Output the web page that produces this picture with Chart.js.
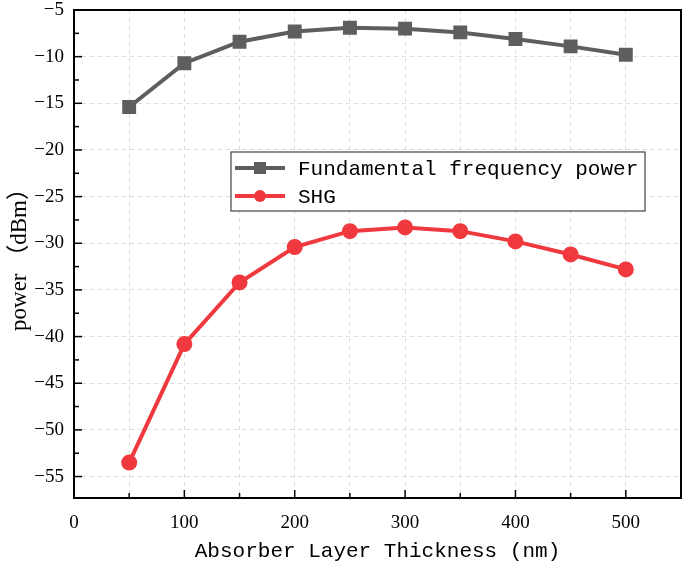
<!DOCTYPE html>
<html lang="en">
  <head>
    <meta charset="UTF-8" />
    <script src="https://cdn.jsdelivr.net/npm/chart.js"></script>
    <title>Absorber Layer Thickness</title>
    <style>
      html, body { margin: 0; padding: 0; background: #fff; }
      #wrap { width: 685px; height: 566px; }
    </style>
  </head>
  <body>
    <div id="wrap"><canvas id="powerChart"></canvas></div>
    <script>
      const thickness = [50, 100, 150, 200, 250, 300, 350, 400, 450, 500];
      const fundamentalPower = [-15.4, -10.7, -8.4, -7.3, -6.9, -7.0, -7.4, -8.1, -8.9, -9.8];
      const shgPower = [-53.5, -40.8, -34.2, -30.4, -28.7, -28.3, -28.7, -29.8, -31.2, -32.8];
      const seriesNames = ["Fundamental frequency power", "SHG"];
      const xTicks = [0, 50, 100, 150, 200, 250, 300, 350, 400, 450, 500, 550];
      const yTicks = [-55, -52.5, -50, -47.5, -45, -42.5, -40, -37.5, -35, -32.5, -30,
        -27.5, -25, -22.5, -20, -17.5, -15, -12.5, -10, -7.5, -5];

      const grey = "#5e5e5e";
      const red = "#f0393e";
      const minus = (v) => String(v).replace("-", "\u2212");

      // inward ticks, frame and the in-plot legend
      const framePlugin = {
        id: "frame",
        afterDraw(chart) {
          const ctx = chart.ctx;
          const a = chart.chartArea;
          const xs = chart.scales.x;
          const ys = chart.scales.y;
          ctx.save();
          ctx.strokeStyle = "#000";
          ctx.lineWidth = 2;
          ctx.strokeRect(a.left, a.top, a.right - a.left, a.bottom - a.top);
          ctx.lineWidth = 1.5;
          xTicks.forEach((v) => {
            const px = xs.getPixelForValue(v);
            const len = v % 100 === 0 ? 8 : 5;
            ctx.beginPath();
            ctx.moveTo(px, a.bottom);
            ctx.lineTo(px, a.bottom - len);
            ctx.stroke();
          });
          yTicks.forEach((v) => {
            const py = ys.getPixelForValue(v);
            const len = v % 5 === 0 ? 8 : 5;
            ctx.beginPath();
            ctx.moveTo(a.left, py);
            ctx.lineTo(a.left + len, py);
            ctx.stroke();
          });

          // legend box
          const bx = 231, by = 152, bw = 414, bh = 59;
          ctx.fillStyle = "#fff";
          ctx.fillRect(bx, by, bw, bh);
          ctx.strokeStyle = "#444";
          ctx.lineWidth = 1.2;
          ctx.strokeRect(bx, by, bw, bh);
          const rows = [
            { y: 168, color: grey, marker: "rect" },
            { y: 196, color: red, marker: "circle" },
          ];
          ctx.font = "21px 'Liberation Mono', monospace";
          ctx.textBaseline = "middle";
          rows.forEach((r, i) => {
            ctx.strokeStyle = r.color;
            ctx.fillStyle = r.color;
            ctx.lineWidth = 4;
            ctx.beginPath();
            ctx.moveTo(235, r.y);
            ctx.lineTo(285, r.y);
            ctx.stroke();
            if (r.marker === "rect") {
              ctx.fillRect(254, r.y - 6, 12, 12);
            } else {
              ctx.beginPath();
              ctx.arc(260, r.y, 6, 0, Math.PI * 2);
              ctx.fill();
            }
            ctx.fillStyle = "#000";
            ctx.fillText(seriesNames[i], 298, r.y + 1);
          });
          ctx.restore();
        },
      };

      const toPoints = (ys) => thickness.map((x, i) => ({ x: x, y: ys[i] }));

      new Chart(document.getElementById("powerChart").getContext("2d"), {
        type: "line",
        data: {
          datasets: [
            {
              label: seriesNames[0],
              data: toPoints(fundamentalPower),
              borderColor: grey,
              backgroundColor: grey,
              borderWidth: 4,
              pointStyle: "rect",
              pointRadius: 7,
              pointHoverRadius: 7,
              fill: false,
            },
            {
              label: seriesNames[1],
              data: toPoints(shgPower),
              borderColor: red,
              backgroundColor: red,
              borderWidth: 4,
              pointStyle: "circle",
              pointRadius: 6,
              pointHoverRadius: 6,
              fill: false,
            },
          ],
        },
        options: {
          responsive: true,
          maintainAspectRatio: false,
          animation: false,
          layout: { autoPadding: false, padding: { top: 10, right: 4, left: 6, bottom: 0 } },
          plugins: {
            legend: { display: false },
            tooltip: { enabled: false },
          },
          scales: {
            x: {
              type: "linear",
              min: 0,
              max: 550,
              afterBuildTicks: (s) => { s.ticks = xTicks.map((v) => ({ value: v })); },
              afterFit: (s) => {
                s.height = 68;
                s.paddingLeft = 0;
                s.paddingRight = 0;
              },
              border: { display: false, dash: [4, 4] },
              grid: { color: "#dcdcdc", lineWidth: 1, drawTicks: false },
              ticks: {
                padding: 14,
                color: "#000",
                font: { family: "'Liberation Serif', serif", size: 19 },
                callback: (v) => (v % 100 === 0 && v < 550 ? String(v) : ""),
              },
              title: {
                display: true,
                text: "Absorber Layer Thickness (nm)",
                color: "#000",
                font: { family: "'Liberation Mono', monospace", size: 21 },
                padding: { top: 0, bottom: 2 },
              },
            },
            y: {
              min: -57.3,
              max: -5,
              afterBuildTicks: (s) => { s.ticks = yTicks.map((v) => ({ value: v })); },
              afterFit: (s) => {
                s.width = 68;
                s.paddingTop = 0;
                s.paddingBottom = 0;
              },
              border: { display: false, dash: [4, 4] },
              grid: { color: "#dcdcdc", lineWidth: 1, drawTicks: false },
              ticks: {
                padding: 10,
                color: "#000",
                font: { family: "'Liberation Serif', serif", size: 19 },
                callback: (v) => (v % 5 === 0 ? minus(v) : ""),
              },
              title: {
                display: true,
                text: "power \uFF08dBm\uFF09",
                color: "#000",
                font: { family: "'Liberation Serif', 'Noto Sans CJK SC', serif", size: 23 },
                padding: { top: 0, bottom: 0 },
              },
            },
          },
        },
        plugins: [framePlugin],
      });
    </script>
  </body>
</html>
